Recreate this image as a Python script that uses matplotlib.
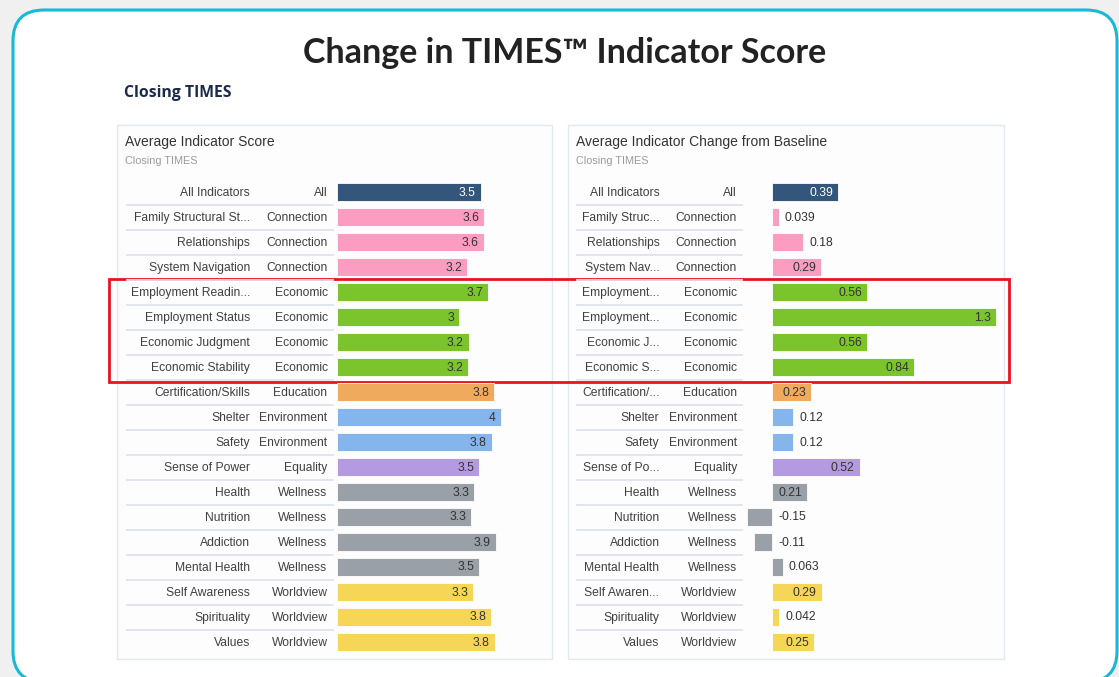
import numpy as np
import matplotlib
matplotlib.use("Agg")
import matplotlib.pyplot as plt
import matplotlib.patches as mpatches
import matplotlib.transforms as mtransforms

W, H = 1119, 677

## Data
indicators_left = [
    "All Indicators", "Family Structural St...", "Relationships", "System Navigation",
    "Employment Readin...", "Employment Status", "Economic Judgment", "Economic Stability",
    "Certification/Skills", "Shelter", "Safety", "Sense of Power", "Health", "Nutrition",
    "Addiction", "Mental Health", "Self Awareness", "Spirituality", "Values",
]
indicators_right = [
    "All Indicators", "Family Struc...", "Relationships", "System Nav...",
    "Employment...", "Employment...", "Economic J...", "Economic S...",
    "Certification/...", "Shelter", "Safety", "Sense of Po...", "Health", "Nutrition",
    "Addiction", "Mental Health", "Self Awaren...", "Spirituality", "Values",
]
categories = [
    "All", "Connection", "Connection", "Connection",
    "Economic", "Economic", "Economic", "Economic",
    "Education", "Environment", "Environment", "Equality",
    "Wellness", "Wellness", "Wellness", "Wellness",
    "Worldview", "Worldview", "Worldview",
]
avg_score = [3.50, 3.58, 3.57, 3.17, 3.68, 2.98, 3.21, 3.19, 3.83, 3.99,
             3.77, 3.46, 3.34, 3.26, 3.86, 3.46, 3.31, 3.76, 3.84]
avg_change = [0.388, 0.039, 0.184, 0.287, 0.56, 1.32, 0.56, 0.838, 0.228, 0.124,
              0.124, 0.515, 0.206, -0.152, -0.108, 0.063, 0.291, 0.042, 0.248]

cat_colors = {
    "All": "#33567a",
    "Connection": "#fc9cc1",
    "Economic": "#7cc42c",
    "Education": "#f0aa5e",
    "Environment": "#85b5ed",
    "Equality": "#b49ae0",
    "Wellness": "#9aa0a8",
    "Worldview": "#f5d656",
}

fig = plt.figure(figsize=(W / 100, H / 100), dpi=100)
fig.patch.set_facecolor("#f0f0f0")

# background axes in pixel coordinates
bg = fig.add_axes([0, 0, 1, 1])
bg.set_xlim(0, W)
bg.set_ylim(H, 0)
bg.axis("off")

card = mpatches.FancyBboxPatch((13, 10), 1104, 672,
                               boxstyle="round,pad=0,rounding_size=31",
                               facecolor="white", edgecolor="#16b9d6", lw=2.2)
bg.add_patch(card)

bg.text(565, 63, "Change in TIMES\u2122 Indicator Score", ha="center", va="baseline",
        fontsize=24.5, fontweight="bold", color="#222222", family=["Lato", "DejaVu Sans"])
bg.text(124, 97, "Closing TIMES", ha="left", va="baseline", fontsize=11.3,
        fontweight="bold", color="#1c2b4b", family=["Open Sans", "DejaVu Sans"])


def px_rect(x0, y0, x1, y1):
    return [x0 / W, 1 - y1 / H, (x1 - x0) / W, (y1 - y0) / H]


def panel(box, title, zero_px, scale, xmin, xmax, values, names, name_x, cat_x, sep_x):
    x0, y0, x1, y1 = box
    bg.add_patch(mpatches.Rectangle((x0, y0), x1 - x0, y1 - y0, facecolor="#fdfdfe",
                                    edgecolor="#e3e7ee", lw=1))
    bg.text(x0 + 8, 146, title, fontsize=10, color="#333333", family="Liberation Sans")
    bg.text(x0 + 8, 164, "Closing TIMES", fontsize=7.8, color="#9a9a9a",
            family="Liberation Sans")

    n = len(values)
    left_px = zero_px + xmin * scale
    right_px = zero_px + xmax * scale
    ax = fig.add_axes(px_rect(left_px, 179.5, right_px, 179.5 + 25 * n))
    ax.patch.set_alpha(0)
    ax.axis("off")

    y = np.arange(n)
    colors = [cat_colors[c] for c in categories]
    ax.barh(y, values, height=0.7, color=colors, edgecolor="white", lw=0.6)

    tr = mtransforms.blended_transform_factory(bg.transData, ax.transData)
    for i in range(n):
        ax.text(name_x, i + 0.04, names[i], transform=tr, ha="right", va="center",
                fontsize=8.7, color="#404040", family="Liberation Sans")
        ax.text(cat_x, i + 0.04, categories[i], transform=tr, ha="right", va="center",
                fontsize=8.7, color="#404040", family="Liberation Sans")
    for i in range(n - 1):
        ax.plot(sep_x, [i + 0.5, i + 0.5], transform=tr, color="#dde4ef", lw=1.3,
                clip_on=False)

    ax.set_xlim(xmin, xmax)
    ax.set_ylim(n - 0.5, -0.5)

    renderer = fig.canvas.get_renderer()
    for i, v in enumerate(values):
        lab = "%.2g" % v
        col = "white" if categories[i] == "All" else "#333333"
        t = ax.text(v - 5 / scale, i + 0.02, lab, ha="right", va="center", fontsize=8.7,
                    color=col, family="Liberation Sans")
        tw = t.get_window_extent(renderer).width
        if abs(v) * scale < tw + 9:
            t.set_color("#333333")
            t.set_ha("left")
            t.set_x(max(v, 0) + 6 / scale)
    return ax


panel((117, 125, 552, 659), "Average Indicator Score", 337.3, 41.0, 0, 4.85,
      avg_score, indicators_left, 250, 327.5, [127, 333])
panel((568, 125, 1004, 659), "Average Indicator Change from Baseline", 772.3, 169.5,
      -0.3, 1.4, avg_change, indicators_right, 659.5, 737, [577, 742])

# red highlight around the Economic rows
bg.add_patch(mpatches.Rectangle((109, 279), 900, 103, facecolor="none",
                                edgecolor="#e8141c", lw=2.0))

fig.savefig("out.png", dpi=100, facecolor=fig.get_facecolor())
